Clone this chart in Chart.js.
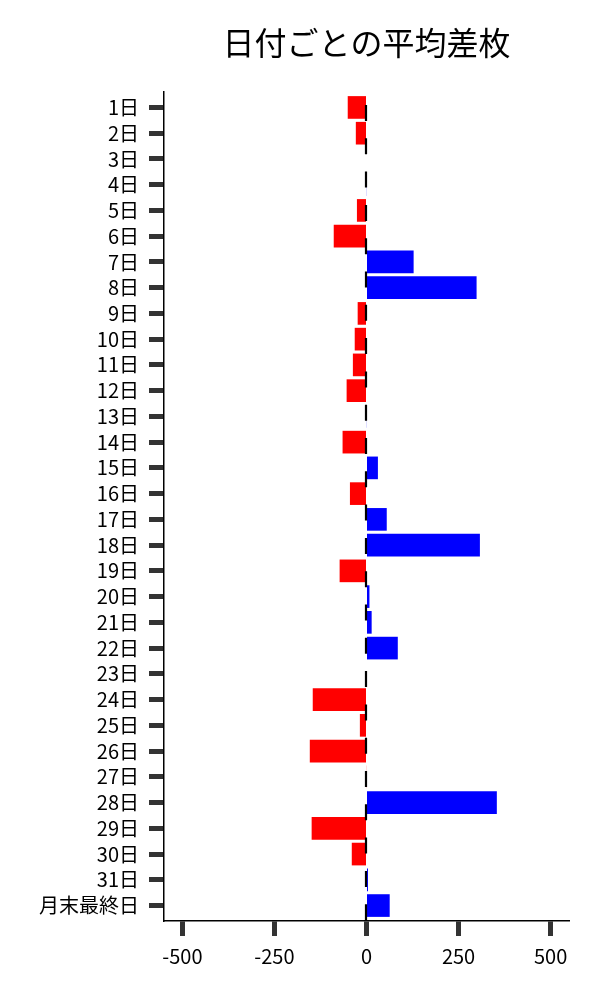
<!DOCTYPE html>
<html>
<head>
<meta charset="utf-8">
<script src="https://cdn.jsdelivr.net/npm/chart.js@4"></script>
<style>
  html, body { margin: 0; padding: 0; background: #fff; }
  #wrap { width: 600px; height: 1000px; }
</style>
</head>
<body>
<div id="wrap"><canvas id="chart"></canvas></div>
<script>
// categories and values
const days = ['1日', '2日', '3日', '4日', '5日', '6日', '7日', '8日', '9日', '10日',
  '11日', '12日', '13日', '14日', '15日', '16日', '17日', '18日', '19日', '20日',
  '21日', '22日', '23日', '24日', '25日', '26日', '27日', '28日', '29日', '30日',
  '31日', '月末最終日']
const avgDiff = [-51, -29, 0, 1, -26, -89, 128, 299, -24, -32,
  -37, -54, 1, -65, 31, -45, 55, 308, -73, 8,
  14, 85, 0, -146, -18, -154, -1, 354, -149, -40,
  4, 63]
const xTicks = [-500, -250, 0, 250, 500]
const title = '日付ごとの平均差枚'

const font = "'Noto Sans CJK JP', 'Noto Sans', sans-serif"

// dashed line at zero plus the title centred over the plot
const zeroLine = {
  id: 'zeroLine',
  afterDatasetsDraw(chart) {
    const { ctx, chartArea, scales } = chart
    const x = scales.x.getPixelForValue(0)
    ctx.save()
    ctx.strokeStyle = '#000'
    ctx.lineWidth = 2.2
    ctx.setLineDash([16, 17.3])
    ctx.lineDashOffset = 20.3
    ctx.beginPath()
    ctx.moveTo(x - 0.5, chartArea.top)
    ctx.lineTo(x - 0.5, chartArea.bottom)
    ctx.stroke()
    ctx.restore()
  },
  afterDraw(chart) {
    const { ctx, chartArea } = chart
    ctx.save()
    ctx.fillStyle = '#000'
    ctx.font = '32px ' + font
    ctx.textAlign = 'center'
    ctx.textBaseline = 'middle'
    ctx.fillText(title, (chartArea.left + chartArea.right) / 2, 43)
    ctx.restore()
  }
}

new Chart(document.getElementById('chart'), {
  type: 'bar',
  data: {
    datasets: [{
      data: avgDiff.map((v, i) => ({ x: v, y: i })),
      backgroundColor: avgDiff.map(v => (v < 0 ? '#ff0000' : '#0000ff')),
      barPercentage: 0.88,
      categoryPercentage: 1
    }]
  },
  options: {
    indexAxis: 'y',
    responsive: true,
    maintainAspectRatio: false,
    animation: false,
    layout: { padding: { top: 92, right: 31, bottom: 0, left: 0 } },
    plugins: {
      legend: { display: false },
      tooltip: { enabled: false }
    },
    scales: {
      x: {
        type: 'linear',
        min: -550,
        max: 550,
        afterBuildTicks: scale => { scale.ticks = xTicks.map(v => ({ value: v })) },
        afterFit: scale => { scale.height = 79 },
        border: { display: true, color: '#000', width: 1.5 },
        grid: { drawOnChartArea: false, tickLength: 15, tickWidth: 5, tickColor: '#333' },
        ticks: { color: '#000', padding: 8, font: { family: font, size: 20 }, maxRotation: 0 }
      },
      y: {
        type: 'linear',
        reverse: true,
        offset: false,
        min: -0.6,
        max: 31.6,
        afterBuildTicks: scale => { scale.ticks = days.map((d, i) => ({ value: i })) },
        afterFit: scale => { scale.width = 164 },
        border: { display: true, color: '#000', width: 1.5 },
        grid: { offset: false, drawOnChartArea: false, tickLength: 15, tickWidth: 5, tickColor: '#333' },
        ticks: {
          color: '#000',
          padding: 10,
          autoSkip: false,
          font: { family: font, size: 20 },
          callback: v => days[v]
        }
      }
    }
  },
  plugins: [zeroLine]
})
</script>
</body>
</html>
